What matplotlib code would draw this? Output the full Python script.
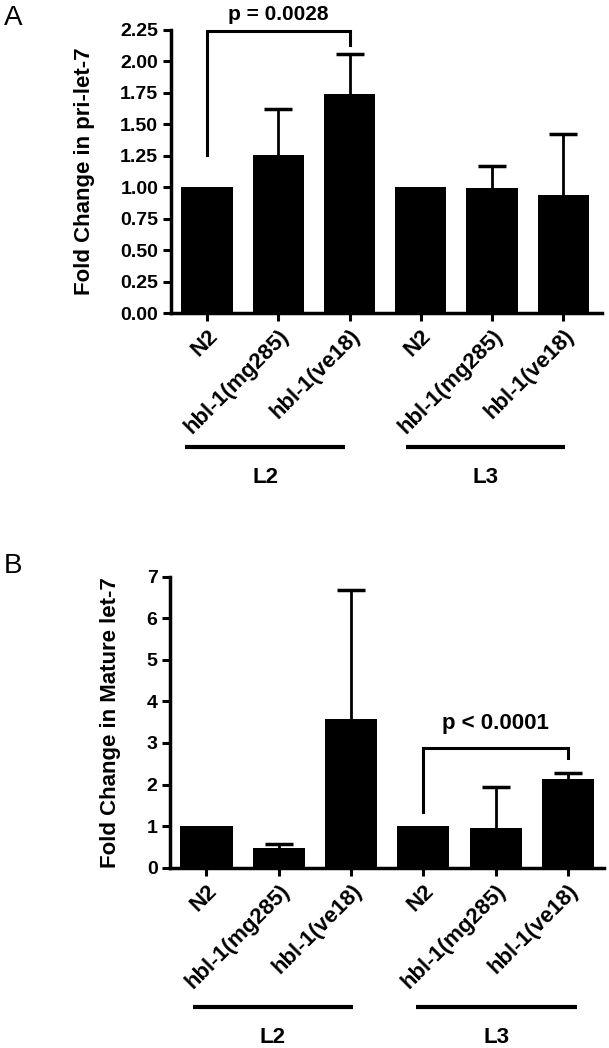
import matplotlib.pyplot as plt
import matplotlib.transforms as mtransforms

plt.rcParams['font.family'] = ['Liberation Sans', 'DejaVu Sans']
plt.rcParams['font.weight'] = 'bold'
plt.rcParams['axes.labelweight'] = 'bold'

# strains, two stages (L2 then L3)
strains = ['N2', 'hbl-1(mg285)', 'hbl-1(ve18)', 'N2', 'hbl-1(mg285)', 'hbl-1(ve18)']
stages = ['L2', 'L3']

# panel A: pri-let-7 fold change (mean, upper error)
pri_mean = [1.0, 1.26, 1.74, 1.0, 0.99, 0.94]
pri_err = [0.0, 0.36, 0.32, 0.0, 0.18, 0.48]

# panel B: mature let-7 fold change
mat_mean = [1.0, 0.47, 3.58, 1.0, 0.95, 2.14]
mat_err = [0.0, 0.09, 3.10, 0.0, 0.99, 0.13]

pval_A = 'p = 0.0028'
pval_B = 'p < 0.0001'

W, H = 609, 1048
fig = plt.figure(figsize=(W / 100, H / 100), dpi=100)


def panel(rect, means, errs, ylim, yticks, yfmt, ylabel, xlim):
    ax = fig.add_axes(rect)
    x = list(range(len(means)))
    ax.bar(x, means, width=0.72, color='black', zorder=2)
    # only upward error bars, skip the normalised N2 bars
    ex = [i for i in x if errs[i] > 0]
    eb = ax.errorbar(ex, [means[i] for i in ex],
                     yerr=[[0] * len(ex), [errs[i] for i in ex]],
                     fmt='none', ecolor='black', elinewidth=2,
                     capsize=10, capthick=2.5, zorder=1)
    eb[1][0].set_visible(False)  # no cap at the bar top
    ax.set_xlim(*xlim)
    ax.set_ylim(*ylim)
    ax.set_yticks(yticks)
    ax.set_yticklabels([yfmt.format(v) for v in yticks], fontsize=14)
    ax.set_xticks(x)
    ax.set_xticklabels(strains, rotation=45, ha='right', rotation_mode='anchor',
                       fontsize=16)
    for s in ['top', 'right']:
        ax.spines[s].set_visible(False)
    for s in ['left', 'bottom']:
        ax.spines[s].set_linewidth(2.5)
    ax.tick_params(axis='both', direction='out', length=6, width=2.2, pad=3)
    ax.set_ylabel(ylabel, fontsize=16, fontweight='bold')
    return ax


axA = panel([170.7 / W, 1 - 313 / H, 431 / W, 283 / H], pri_mean, pri_err,
            (0, 2.25), [i * 0.25 for i in range(10)], '{:.2f}',
            'Fold Change in pri-let-7', (-0.51, 5.54))
axA.yaxis.set_label_coords(-0.176, 0.5)

axB = panel([170 / W, 1 - 867.7 / H, 434 / W, 291 / H], mat_mean, mat_err,
            (0, 7), list(range(8)), '{:d}',
            'Fold Change in Mature let-7', (-0.505, 5.50))
axB.yaxis.set_label_coords(-0.113, 0.5)

# significance brackets
axA.plot([0, 0, 2, 2], [1.26, 2.245, 2.245, 2.13], color='black', lw=2.2,
         clip_on=False, solid_joinstyle='miter')
axA.text(1, 2.37, pval_A, ha='center', va='center', fontsize=15, clip_on=False)
axB.plot([3, 3, 5, 5], [1.35, 2.88, 2.88, 2.65], color='black', lw=2.2,
         clip_on=False, solid_joinstyle='miter')
axB.text(4, 3.47, pval_B, ha='center', va='center', fontsize=16)

# stage group lines under the tick labels
def stages_bar(ax, spans, ly, ty):
    tr = mtransforms.blended_transform_factory(ax.transData, ax.transAxes)
    for (a, b), name in zip(spans, stages):
        ax.plot([a, b], [ly, ly], color='black', lw=3, transform=tr,
                clip_on=False, solid_capstyle='butt')
        ax.text((a + b) / 2, ty, name, transform=tr, ha='center', va='center',
                fontsize=16)

stages_bar(axA, [(-0.31, 1.94), (2.79, 5.03)], -0.472, -0.58)
stages_bar(axB, [(-0.19, 2.03), (2.90, 5.12)], -0.479, -0.585)

fig.text(4 / W, 1 - 5 / H, 'A', fontsize=20, fontweight='normal', ha='left', va='top')
fig.text(4 / W, 1 - 553 / H, 'B', fontsize=20, fontweight='normal', ha='left', va='top')

fig.savefig('out.png', dpi=100)
